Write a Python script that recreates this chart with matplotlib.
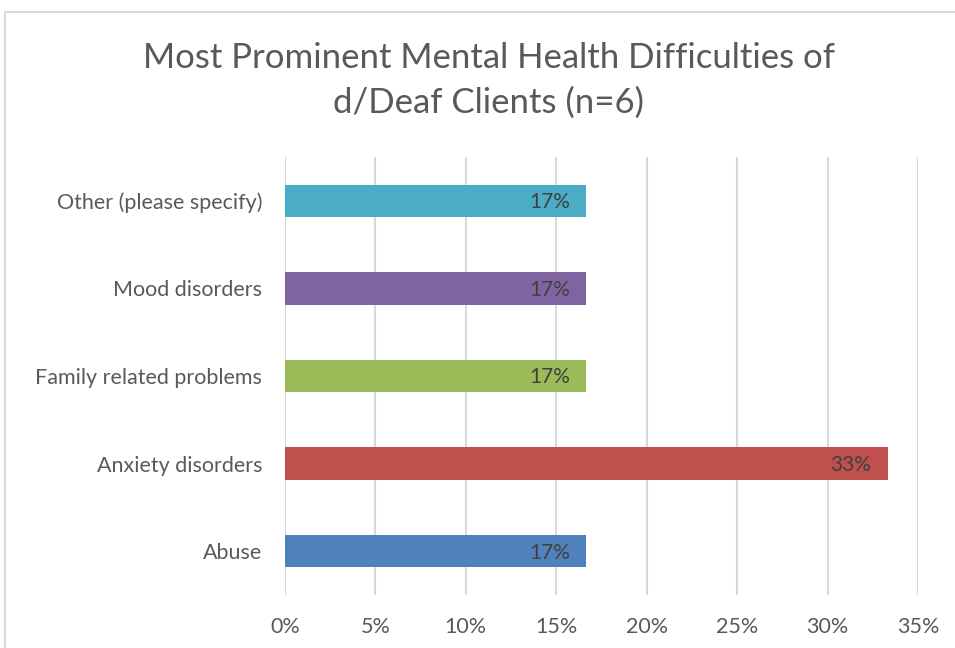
import matplotlib.pyplot as plt
from matplotlib.patches import Rectangle
from matplotlib.ticker import FuncFormatter, MultipleLocator

# Daten (von unten nach oben)
categories = ['Abuse', 'Anxiety disorders', 'Family related problems',
              'Mood disorders', 'Other (please specify)']
values = [1 / 6, 2 / 6, 1 / 6, 1 / 6, 1 / 6]
labels = ['17%', '33%', '17%', '17%', '17%']
colors = ['#4F81BD', '#C0504D', '#9BBB59', '#8064A2', '#4BACC6']

plt.rcParams['font.family'] = ['Lato', 'DejaVu Sans']

fig = plt.figure(figsize=(9.55, 6.48), dpi=100)
ax = fig.add_axes([0.2984, 0.0818, 0.6629, 0.6759])

ax.barh(range(len(categories)), values, height=0.37, color=colors, zorder=3)
for i, (v, lab) in enumerate(zip(values, labels)):
    ax.annotate(lab, xy=(v, i), xytext=(-12, -1), textcoords='offset points',
                ha='right', va='center', fontsize=15, color='#404040', zorder=4)

ax.set_xlim(0, 0.35)
ax.set_ylim(-0.5, len(categories) - 0.5)
ax.xaxis.set_major_locator(MultipleLocator(0.05))
ax.xaxis.set_major_formatter(FuncFormatter(lambda x, _: f'{x * 100:.0f}%'))
ax.set_yticks(range(len(categories)))
ax.set_yticklabels(categories)
ax.tick_params(length=0, labelsize=15.5, labelcolor='#595959')
ax.tick_params(axis='x', pad=16)
ax.tick_params(axis='y', pad=16.5)
ax.grid(axis='x', color='#D9D9D9', linewidth=1.5, zorder=0)
for s in ax.spines.values():
    s.set_visible(False)

fig.text(0.512, 0.876, 'Most Prominent Mental Health Difficulties of\nd/Deaf Clients (n=6)',
         ha='center', va='center', fontsize=25, color='#595959', linespacing=1.45)

# Rahmen
fig.add_artist(Rectangle((5 / 955, -0.1), 1.2, 1 - 12 / 648 + 0.1,
                         transform=fig.transFigure, fill=False,
                         edgecolor='#D9D9D9', linewidth=1.5))

fig.savefig('out.png', dpi=100)
